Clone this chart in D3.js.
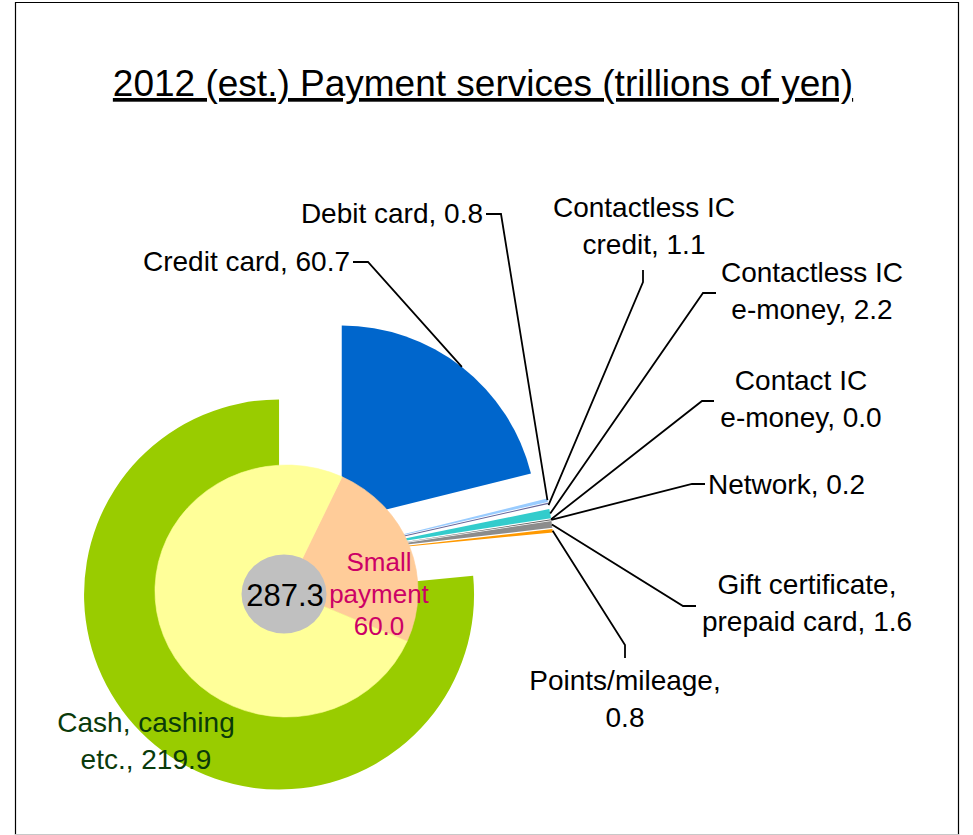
<!DOCTYPE html>
<html>
<head>
<meta charset="utf-8">
<script src="https://cdn.jsdelivr.net/npm/d3@7"></script>
<style>
  html, body { margin: 0; padding: 0; background: #fff; }
  svg { display: block; font-family: "Liberation Sans", Arial, sans-serif; }
</style>
</head>
<body>
<svg id="chart" width="973" height="835"></svg>
<script>
// ---- data ----
const titleText = '2012 (est.) Payment services (trillions of yen)';

const outerCategories = [
  'Credit card', 'Debit card', 'Contactless IC credit', 'Contactless IC e-money',
  'Contact IC e-money', 'Network', 'Gift certificate, prepaid card',
  'Points/mileage', 'Cash, cashing etc.'
];
const outerValues = [60.7, 0.8, 1.1, 2.2, 0.0, 0.2, 1.6, 0.8, 219.9];
// label text per category (value is appended to the last line)
const outerLabelLines = [
  ['Credit card'], ['Debit card'], ['Contactless IC', 'credit'], ['Contactless IC', 'e-money'],
  ['Contact IC', 'e-money'], ['Network'], ['Gift certificate,', 'prepaid card'],
  ['Points/mileage,', ''], ['Cash, cashing', 'etc.']
];

const innerCategories = ['Small payment', 'Other payment'];
const innerValues = [60.0, 184.0];
const innerLabelLines = [['Small', 'payment', ''], null];

const totalValue = 287.3;

// ---- styles / layout ----
const outerColors = {
  'Credit card': '#0066CC', 'Debit card': '#99CCFF', 'Contactless IC credit': '#FFFFFF',
  'Contactless IC e-money': '#33CCCC', 'Contact IC e-money': '#CCFFCC', 'Network': '#5F5F5F',
  'Gift certificate, prepaid card': '#8C8C8C', 'Points/mileage': '#FF9900',
  'Cash, cashing etc.': '#99CC00'
};
const innerColors = { 'Small payment': '#FFCC99', 'Other payment': '#FFFF99' };

const outerCenter = [314, 556];
const outerRadius = 195;
const outerExplode = { 'Cash, cashing etc.': 52 };
const defaultExplode = 45;

const innerCenter = [286.5, 591];
const innerRadius = 126;
const innerStretchX = 1.044;
const innerStart = 25 * Math.PI / 180;

const labelFont = 28;
const lineGap = 36.5;

// text anchor position (first baseline) and leader elbow per category
const labelLayout = {
  'Credit card':                    { x: 350, y: 271, anchor: 'end',    leader: [[353, 262], [368, 262]] },
  'Debit card':                     { x: 483, y: 223, anchor: 'end',    leader: [[486, 214], [501, 214]] },
  'Contactless IC credit':          { x: 644, y: 217, anchor: 'middle', leader: [[643, 270], [643, 282]] },
  'Contactless IC e-money':         { x: 812, y: 282, anchor: 'middle', leader: [[716, 293], [703, 293]] },
  'Contact IC e-money':             { x: 801, y: 390, anchor: 'middle', leader: [[714, 401], [702, 401]] },
  'Network':                        { x: 708, y: 494, anchor: 'start',  leader: [[705, 484], [692, 484]] },
  'Gift certificate, prepaid card': { x: 807, y: 594, anchor: 'middle', leader: [[696, 606], [683, 606]] },
  'Points/mileage':                 { x: 625, y: 690, anchor: 'middle', leader: [[625, 658], [625, 645]] },
  'Cash, cashing etc.':             { x: 146, y: 732, anchor: 'middle', leader: null, color: '#0A3A0A' }
};

const svg = d3.select('#chart');
const fmt = d3.format('.1f');

// frame
svg.append('path')
  .attr('d', 'M15.5,840 V2.5 H958.5 V840')
  .attr('fill', 'none').attr('stroke', '#000').attr('stroke-width', 1.2);
svg.append('line')
  .attr('x1', 15).attr('x2', 959).attr('y1', 834.5).attr('y2', 834.5)
  .attr('stroke', '#c8c8c8').attr('stroke-width', 1);

// title
svg.append('text')
  .attr('x', 483).attr('y', 96)
  .attr('text-anchor', 'middle')
  .attr('font-size', 37)
  .attr('text-decoration', 'underline')
  .attr('fill', '#000')
  .text(titleText);

// ---- outer pie (every slice pulled out along its bisector) ----
const outerData = outerCategories.map((c, i) => ({ category: c, value: outerValues[i], lines: outerLabelLines[i] }));
const outerPie = d3.pie().value(d => d.value).sort(null)(outerData);
const outerArc = d3.arc().innerRadius(0).outerRadius(outerRadius);

outerPie.forEach(p => {
  p.mid = (p.startAngle + p.endAngle) / 2;
  const e = outerExplode[p.data.category] ?? defaultExplode;
  p.cx = outerCenter[0] + e * Math.sin(p.mid);
  p.cy = outerCenter[1] - e * Math.cos(p.mid);
  p.tip = [p.cx + outerRadius * Math.sin(p.mid), p.cy - outerRadius * Math.cos(p.mid)];
});

const outerG = svg.append('g');
outerG.selectAll('path.slice')
  .data(outerPie)
  .join('path')
  .attr('class', 'slice')
  .attr('transform', d => `translate(${d.cx},${d.cy})`)
  .attr('d', outerArc)
  .attr('fill', d => outerColors[d.data.category]);

// edge line along the start of the contactless credit slice
outerPie.filter(p => p.data.category === 'Contactless IC credit').forEach(p => {
  const a = p.startAngle + 0.003;
  outerG.append('line')
    .attr('x1', p.cx).attr('y1', p.cy)
    .attr('x2', p.cx + outerRadius * Math.sin(a))
    .attr('y2', p.cy - outerRadius * Math.cos(a))
    .attr('stroke', '#666699').attr('stroke-width', 1.1);
});

// ---- inner pie ----
const innerData = innerCategories.map((c, i) => ({ category: c, value: innerValues[i], lines: innerLabelLines[i] }));
const innerPie = d3.pie().value(d => d.value).sort(null)
  .startAngle(innerStart).endAngle(innerStart + 2 * Math.PI)(innerData);
const innerArc = d3.arc().innerRadius(0).outerRadius(innerRadius);

svg.append('g')
  .attr('transform', `translate(${innerCenter[0]},${innerCenter[1]}) scale(${innerStretchX},1)`)
  .selectAll('path')
  .data(innerPie)
  .join('path')
  .attr('d', innerArc)
  .attr('fill', d => innerColors[d.data.category])
  .attr('stroke', d => innerColors[d.data.category])
  .attr('stroke-width', 0.6);

// centre total
svg.append('ellipse')
  .attr('cx', 284).attr('cy', 594).attr('rx', 42.5).attr('ry', 39.5)
  .attr('fill', '#C0C0C0');
svg.append('text')
  .attr('x', 285).attr('y', 606)
  .attr('text-anchor', 'middle').attr('font-size', 31).attr('fill', '#000')
  .text(fmt(totalValue));

// small payment label
innerPie.filter(p => p.data.lines).forEach(p => {
  const lines = p.data.lines.map((l, i, arr) => i === arr.length - 1 ? (l ? l + ', ' : '') + fmt(p.data.value) : l);
  const t = svg.append('text')
    .attr('text-anchor', 'middle').attr('font-size', 26).attr('fill', '#CC0066');
  lines.forEach((l, i) => t.append('tspan').attr('x', 379).attr('y', 571 + i * 32).text(l));
});

// ---- outer labels and leaders ----
const leaderG = svg.append('g');
const labelG = svg.append('g');
outerPie.forEach(p => {
  const lay = labelLayout[p.data.category];
  const lines = p.data.lines.map((l, i, arr) => i === arr.length - 1 ? (l ? l + ', ' : '') + fmt(p.data.value) : l);
  const t = labelG.append('text')
    .attr('text-anchor', lay.anchor)
    .attr('font-size', labelFont)
    .attr('fill', lay.color || '#000');
  lines.forEach((l, i) => t.append('tspan').attr('x', lay.x).attr('y', lay.y + i * lineGap).text(l));
  if (lay.leader) {
    const pts = lay.leader.concat([p.tip]);
    leaderG.append('path')
      .attr('d', d3.line()(pts))
      .attr('fill', 'none').attr('stroke', '#000').attr('stroke-width', 1.8);
  }
});
</script>
</body>
</html>
